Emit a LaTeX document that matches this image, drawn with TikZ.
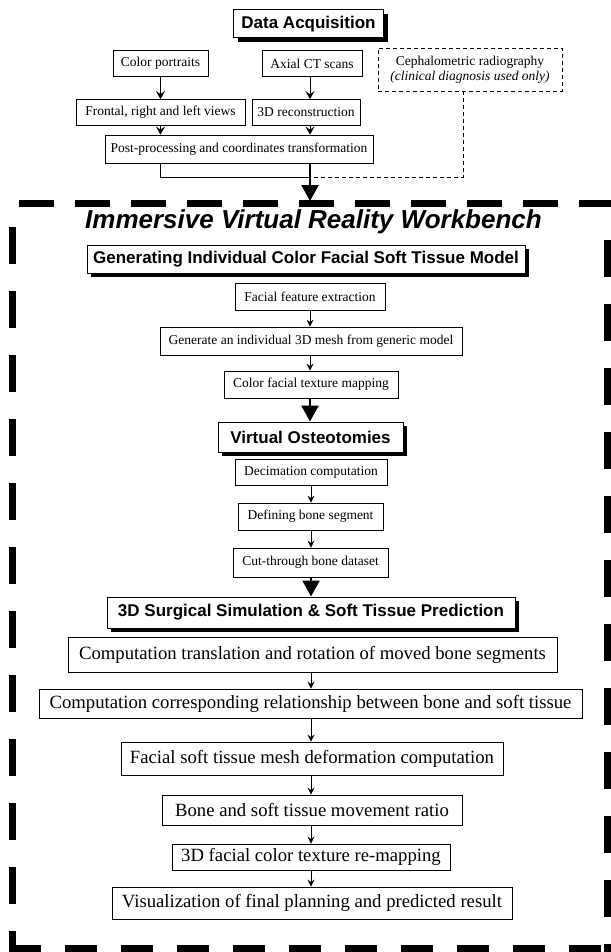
\documentclass[tikz,border=0pt]{standalone}
\usepackage{fontspec}
\setmainfont{Liberation Serif}
\newfontfamily\hsans{Liberation Sans}
\usetikzlibrary{arrows.meta,shadows}
\tikzset{
  sbox/.style={draw, line width=0.8pt, fill=white, inner sep=0pt, align=center,
    font=\fontsize{13.5}{15}\selectfont},
  lbox/.style={draw, line width=0.9pt, fill=white, inner sep=0pt, align=center,
    font=\fontsize{18.7}{21}\selectfont},
  hbox/.style={draw, line width=1pt, fill=white, inner sep=0pt, align=center,
    font=\hsans\bfseries\fontsize{17}{19}\selectfont,
    drop shadow={shadow xshift=4pt, shadow yshift=-4pt, fill=black, opacity=1}},
  thinarrow/.style={-{Stealth[length=7pt,width=7pt,inset=2.5pt]}, line width=0.8pt},
  toparrow/.style={-{Stealth[length=8pt,width=9pt,inset=3pt]}, line width=1pt},
  bigarrow/.style={-{Triangle[length=16pt,width=17pt]}, line width=2.4pt},
  border/.style={line width=7pt, line cap=butt},
}
\begin{document}
\begin{tikzpicture}[x=1pt,y=-1pt]
\useasboundingbox (0,0) rectangle (610,952);
% ---------- Data acquisition ----------
\node[hbox, minimum width=150pt, minimum height=28pt] (da) at (308.5,24) {Data Acquisition};
\node[sbox, minimum width=95pt, minimum height=26pt] (cp) at (160.5,63.5) {Color portraits};
\node[sbox, minimum width=100pt, minimum height=26pt] (ct) at (312,63.5) {Axial CT scans};
\node[sbox, dashed, dash pattern=on 4pt off 3pt, minimum width=184pt, minimum height=43pt] (ceph) at (470,69.5)
  {Cephalometric radiography\\{\itshape (clinical diagnosis used only)}};
\node[sbox, minimum width=169pt, minimum height=26pt] (fr) at (160.5,112.5) {Frontal, right and left views};
\node[sbox, minimum width=108pt, minimum height=26pt] (recon) at (306,112.5) {3D reconstruction};
\node[sbox, minimum width=268pt, minimum height=28pt] (post) at (239,149) {Post-processing and coordinates transformation};

\coordinate (xb) at (310,0);
\coordinate (xc) at (463,0);
\coordinate (j) at (310,177);
\coordinate (bt) at (310,201);

\draw[toparrow] (cp) -- (fr);
\draw[toparrow] (ct.south -| xb) -- (recon.north -| xb);
\draw[toparrow] (fr.south) -- (fr.south |- post.north);
\draw[toparrow] (recon.south -| xb) -- (post.north -| xb);
\draw[line width=0.9pt] (post.south -| fr) |- (j);
\draw[line width=0.9pt, dash pattern=on 4pt off 3pt] (ceph.south -| xc) |- (j);
\draw[line width=1.6pt] (post.south -| xb) -- (j);
\draw[bigarrow] (j) -- (bt);

% ---------- Border ----------
\draw[border, dash pattern=on 35pt off 21pt] (19,203.5) -- (614,203.5);
\draw[border, dash pattern=on 32pt off 24pt] (9,948) -- (614,948);
\draw[border, dash pattern=on 37pt off 27pt] (12,227) -- (12,952);
\draw[border, dash pattern=on 37pt off 27pt] (607,240) -- (607,952);

% ---------- Workbench ----------
\node[font=\hsans\bfseries\itshape\fontsize{26}{28}\selectfont, inner sep=0pt] (title) at (313.5,222) {Immersive Virtual Reality Workbench};

\node[hbox, minimum width=438pt, minimum height=28pt] (gen) at (306,259) {Generating Individual Color Facial Soft Tissue Model};
\node[sbox, minimum width=150pt, minimum height=27pt] (ffe) at (310,296.5) {Facial feature extraction};
\node[sbox, minimum width=302pt, minimum height=28pt] (gm) at (311,341) {Generate an individual 3D mesh from generic model};
\node[sbox, minimum width=174pt, minimum height=27pt] (cftm) at (311,384.5) {Color facial texture mapping};

\node[hbox, minimum width=185pt, minimum height=30pt] (vo) at (310.5,437) {Virtual Osteotomies};
\node[sbox, minimum width=152pt, minimum height=26pt] (dc) at (311,472) {Decimation computation};
\node[sbox, minimum width=145pt, minimum height=27pt] (dbs) at (310.5,516.5) {Defining bone segment};
\node[sbox, minimum width=155pt, minimum height=29pt] (ctb) at (310.5,562.5) {Cut-through bone dataset};

\node[hbox, minimum width=408pt, minimum height=31pt] (surg) at (311,612.5) {3D Surgical Simulation \& Soft Tissue Prediction};
\node[lbox, minimum width=489pt, minimum height=35pt] (c1) at (312.5,654.5) {Computation translation and rotation of moved bone segments};
\node[lbox, minimum width=543pt, minimum height=29pt] (c2) at (310.5,703.5) {Computation corresponding relationship between bone and soft tissue};
\node[lbox, minimum width=382pt, minimum height=33pt] (fst) at (312,758.5) {Facial soft tissue mesh deformation computation};
\node[lbox, minimum width=300pt, minimum height=30pt] (bsr) at (312,810) {Bone and soft tissue movement ratio};
\node[lbox, minimum width=278pt, minimum height=26pt] (fct) at (311,857) {3D facial color texture re-mapping};
\node[lbox, minimum width=400pt, minimum height=32pt] (vis) at (312,903) {Visualization of final planning and predicted result};

\coordinate (xd) at (311,0);
\draw[thinarrow] (ffe.south -| xb) -- (gm.north -| xb);
\draw[thinarrow] (gm.south -| xb) -- (cftm.north -| xb);
\draw[bigarrow] (cftm.south -| xb) -- (vo.north -| xb);
\draw[thinarrow] (dc.south -| xd) -- (dbs.north -| xd);
\draw[thinarrow] (dbs.south -| xd) -- (ctb.north -| xd);
\draw[bigarrow] (ctb.south -| xd) -- (surg.north -| xd);
\draw[thinarrow] (c1.south -| xd) -- (c2.north -| xd);
\draw[thinarrow] (c2.south -| xd) -- (fst.north -| xd);
\draw[thinarrow] (fst.south -| xd) -- (bsr.north -| xd);
\draw[thinarrow] (bsr.south -| xd) -- (fct.north -| xd);
\draw[thinarrow] (fct.south -| xd) -- (vis.north -| xd);
\end{tikzpicture}
\end{document}
